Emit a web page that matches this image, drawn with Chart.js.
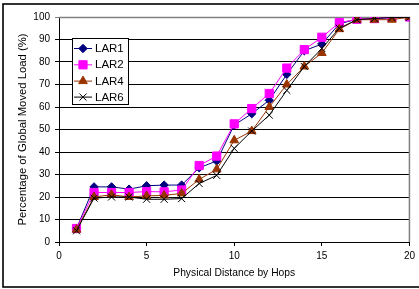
<!DOCTYPE html>
<html>
<head>
<meta charset="utf-8">
<script src="https://cdn.jsdelivr.net/npm/chart.js@4/dist/chart.umd.min.js"></script>
<style>
html,body{margin:0;padding:0;background:#fff;}
#wrap{position:relative;width:419px;height:289px;}
</style>
</head>
<body>
<div id="wrap"><canvas id="c" width="419" height="289"></canvas></div>
<script>
const hops = [1,2,3,4,5,6,7,8,9,10,11,12,13,14,15,16,17,18,19,20];
const seriesNames = ['LAR1','LAR2','LAR4','LAR6'];
const lar1 = [6, 24.5, 24.5, 23.5, 25, 25.3, 25.3, 33, 36, 52, 57, 63, 74.5, 85, 88, 97, 99, 99.3, 99.8, 100];
const lar2 = [6, 22, 22, 22, 22.4, 22.3, 23.1, 34, 38.2, 52.5, 59.3, 66, 77.3, 85.5, 91, 97.5, 99, 99.3, 99.8, 100];
const lar4 = [5.5, 20, 21, 20, 20.5, 20.7, 21.6, 27.8, 32.3, 45.2, 49.3, 60, 70, 78, 84, 94.6, 98.8, 98.8, 98.8, 100];
const lar6 = [5, 19.5, 20, 20, 19, 19, 19.3, 26, 29.6, 41.6, 49.3, 56.4, 67.4, 78, 86, 95, 98.8, 99.3, 99.8, 99.8];
const yTicks = [0,10,20,30,40,50,60,70,80,90,100];
const xTicks = [0,5,10,15,20];
const yTitle = 'Percentage of Global Moved Load (%)';
const xTitle = 'Physical Distance by Hops';

const FONT = "'Liberation Sans', Arial, sans-serif";
const styles = [
  {color:'#000080', pointStyle:'rectRot', radius:4.2},
  {color:'#FF00FF', pointStyle:'rect', radius:5.8},
  {color:'#993300', pointStyle:'triangle', radius:5},
  {color:'#000000', pointStyle:'crossRot', radius:5}
];
const values = [lar1, lar2, lar4, lar6];

const datasets = values.map((vals, i) => ({
  label: seriesNames[i],
  data: hops.map((h, j) => ({x: h, y: vals[j]})),
  borderColor: styles[i].color,
  backgroundColor: styles[i].color,
  borderWidth: 1,
  pointStyle: styles[i].pointStyle,
  pointRadius: styles[i].radius,
  pointBorderWidth: 1,
  pointBorderColor: styles[i].color,
  pointBackgroundColor: styles[i].color,
  tension: 0,
  order: 4 - i
}));

const decor = {
  id: 'decor',
  beforeDatasetsDraw(chart) {
    const {ctx, chartArea: a} = chart;
    ctx.save();
    ctx.strokeStyle = '#808080';
    ctx.lineWidth = 1.5;
    ctx.beginPath();
    ctx.moveTo(a.left, a.top + 0.5);
    ctx.lineTo(a.right, a.top + 0.5);
    ctx.lineTo(a.right, a.bottom);
    ctx.stroke();
    ctx.restore();
  },
  afterDraw(chart) {
    const ctx = chart.ctx;
    ctx.save();
    // outer frame
    ctx.strokeStyle = '#000';
    ctx.lineWidth = 1.6;
    ctx.strokeRect(3, 4, 430, 283);
    // legend box
    const lx = 72, ly = 38, lw = 56, lh = 66;
    ctx.fillStyle = '#fff';
    ctx.fillRect(lx, ly, lw, lh);
    ctx.strokeStyle = '#000';
    ctx.lineWidth = 1;
    ctx.strokeRect(lx + 0.5, ly + 0.5, lw, lh);
    const rowY = [48, 64.3, 80.6, 96.6];
    ctx.font = '11.5px ' + FONT;
    ctx.textBaseline = 'middle';
    ctx.textAlign = 'left';
    seriesNames.forEach((name, i) => {
      const y = rowY[i];
      const st = styles[i];
      ctx.strokeStyle = st.color;
      ctx.lineWidth = 1;
      ctx.beginPath();
      ctx.moveTo(74, y + 0.5);
      ctx.lineTo(92, y + 0.5);
      ctx.stroke();
      ctx.fillStyle = st.color;
      Chart.helpers.drawPoint(ctx, {
        pointStyle: st.pointStyle, radius: st.radius, borderWidth: 1, rotation: 0
      }, 83, y + 0.5);
      ctx.fillStyle = '#000';
      ctx.fillText(name, 95, y + 1);
    });
    ctx.restore();
  }
};

new Chart(document.getElementById('c'), {
  type: 'line',
  data: {datasets},
  options: {
    responsive: false,
    animation: false,
    events: [],
    layout: {padding: {top: 17, right: 6, left: 0, bottom: 0}},
    plugins: {legend: {display: false}, tooltip: {enabled: false}},
    scales: {
      x: {
        type: 'linear',
        min: 0, max: 20,
        afterFit(s) { s.height = 47; },
        afterBuildTicks(s) { s.ticks = xTicks.map(v => ({value: v})); },
        grid: {drawOnChartArea: false, drawTicks: true, tickLength: 4, color: '#000', lineWidth: 1},
        border: {display: true, color: '#000', width: 1},
        ticks: {color: '#000', font: {family: FONT, size: 10}, padding: 4, maxRotation: 0},
        title: {display: true, text: xTitle, color: '#000', font: {family: FONT, size: 10.3}, padding: {top: 0, bottom: 10}}
      },
      y: {
        type: 'linear',
        min: 0, max: 100,
        afterFit(s) { s.width = 59; },
        afterBuildTicks(s) { s.ticks = yTicks.map(v => ({value: v})); },
        grid: {
          color: (c) => (c.tick && c.tick.value === 100) ? '#808080' : '#000',
          lineWidth: 1, tickLength: 4, drawTicks: true
        },
        border: {display: true, color: '#000', width: 1},
        ticks: {color: '#000', font: {family: FONT, size: 10}, padding: 5},
        title: {display: true, text: yTitle, color: '#000', font: {family: FONT, size: 11.3}, padding: {top: 16, bottom: 0}}
      }
    }
  },
  plugins: [decor]
});
</script>
</body>
</html>
